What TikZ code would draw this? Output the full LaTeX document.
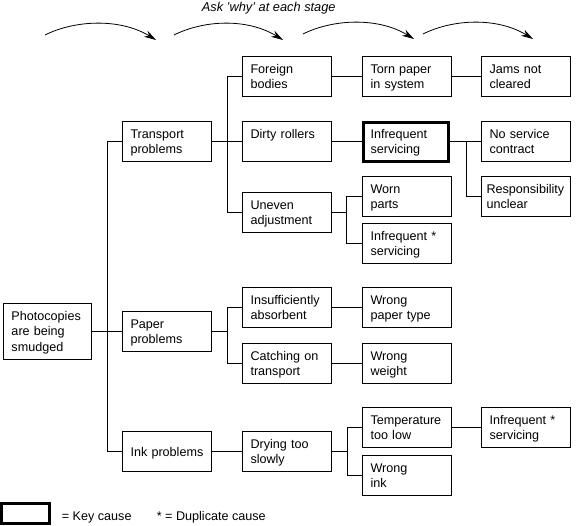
\documentclass[tikz,border=0pt]{standalone}
\usepackage{fontspec}
\setmainfont{Liberation Sans}
\usepackage{tikz}
\usetikzlibrary{arrows.meta}

\begin{document}
\begin{tikzpicture}[x=1pt, y=-1pt, line width=1pt,
  every node/.style={font=\fontsize{12.6}{15.5}\selectfont},
  box/.style={draw, anchor=north west, outer sep=0pt, text width=73pt, inner xsep=8pt,
    inner ysep=0pt, minimum height=40pt, align=left, text height=11pt, text depth=18pt},
  keybox/.style={box, line width=3pt, text width=71pt, inner xsep=7pt, minimum height=39pt},
  why/.style={line width=0.8pt, -{Stealth[length=12pt,width=7pt]}}]

  \useasboundingbox (0,0) rectangle (576,526);

  % Ueberschrift
  \node[anchor=base west, font=\fontsize{12.8}{15}\selectfont\itshape] (Q) at (198,12)
    {Ask 'why' at each stage};

  % Pfeile
  \coordinate (W1) at (45,35);  \coordinate (W1e) at (156,40);
  \coordinate (W2) at (174,35); \coordinate (W2e) at (283,40);
  \coordinate (W3) at (303,34); \coordinate (W3e) at (414,39);
  \coordinate (W4) at (423,34); \coordinate (W4e) at (533,39);
  \draw[why] (W1) .. controls +(30,-15) and +(-36,-22) .. (W1e);
  \draw[why] (W2) .. controls +(30,-15) and +(-36,-22) .. (W2e);
  \draw[why] (W3) .. controls +(30,-15) and +(-36,-22) .. (W3e);
  \draw[why] (W4) .. controls +(30,-15) and +(-36,-22) .. (W4e);

  % Problem
  \node[box, text width=72pt, minimum height=56pt, text depth=34pt] (A) at (3.5,304)
    {Photocopies\\are being\\smudged};

  % Erste Stufe
  \node[box] (B1) at (122.5,122) {Transport\\problems};
  \node[box] (B2) at (122.5,312) {Paper\\problems};
  \node[box, text depth=2pt] (B3) at (122.5,432) {Ink problems};

  % Zweite Stufe
  \node[box] (C1) at (242.5,57) {Foreign\\bodies};
  \node[box] (C2) at (242.5,122) {Dirty rollers};
  \node[box] (C3) at (242.5,193) {Uneven\\adjustment};
  \node[box] (C4) at (242.5,288) {Insufficiently\\absorbent};
  \node[box] (C5) at (242.5,344) {Catching on\\transport};
  \node[box] (C6) at (242.5,432) {Drying too\\slowly};

  % Dritte Stufe
  \node[box] (D1) at (362.5,57) {Torn paper\\in system};
  \node[keybox] (D2) at (363.5,122.5) {Infrequent\\servicing};
  \node[box] (D3) at (362.5,177) {Worn\\parts};
  \node[box] (D4) at (362.5,224) {Infrequent *\\servicing};
  \node[box] (D5) at (362.5,288) {Wrong\\paper type};
  \node[box] (D6) at (362.5,344) {Wrong\\weight};
  \node[box] (D7) at (362.5,408) {Temperature\\too low};
  \node[box] (D8) at (362.5,456) {Wrong\\ink};

  % Vierte Stufe
  \node[box] (E1) at (481.5,57) {Jams not\\cleared};
  \node[box] (E2) at (481.5,122) {No service\\contract};
  \node[box, inner xsep=5pt, text width=79pt] (E3) at (481.5,177) {Responsibility\\unclear};
  \node[box] (E4) at (481.5,408) {Infrequent *\\servicing};

  % Verbindungen
  \draw (A.east) -- ++(16,0) |- (B1.west);
  \draw (A.east) -- (B2.west);
  \draw (A.east) -- ++(16,0) |- (B3.west);

  \draw (B1.east) -- ++(16,0) |- (C1.west);
  \draw (B1) -- (C2);
  \draw (B1.east) -- ++(16,0) |- (C3.west);
  \draw (B2.east) -- ++(16,0) |- (C4.west);
  \draw (B2.east) -- ++(16,0) |- (C5.west);
  \draw (B3) -- (C6);

  \draw (C1) -- (D1);
  \draw (C2) -- (D2);
  \draw (C3.east) -- ++(15,0) |- (D3.west);
  \draw (C3.east) -- ++(15,0) |- (D4.west);
  \draw (C4) -- (D5);
  \draw (C5) -- (D6);
  \draw (C6.east) -- ++(16,0) |- (D7.west);
  \draw (C6.east) -- ++(16,0) |- (D8.west);

  \draw (D1) -- (E1);
  \draw (D2) -- (E2);
  \draw (D2.east) -- ++(17.5,0) |- (E3.west);
  \draw (D7) -- (E4);

  % Legende
  \node[draw, line width=3pt, outer sep=0pt, minimum width=48pt, minimum height=20pt,
    inner sep=0pt, anchor=north west] (K) at (1.5,503.5) {};
  \node[anchor=base west] (K1) at (58,520.5) {= Key cause};
  \node[anchor=base west] (K2) at (153,520.5) {* = Duplicate cause};

\end{tikzpicture}
\end{document}
